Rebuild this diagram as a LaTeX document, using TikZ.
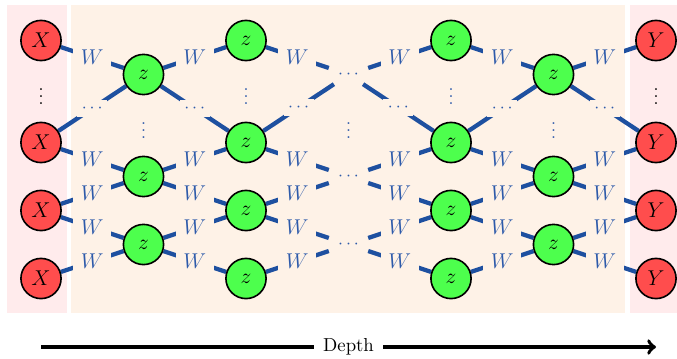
\documentclass[tikz,border=0pt]{standalone}
\usepackage{tikz}
\definecolor{edgeblue}{RGB}{30,80,160}
\definecolor{labblue}{RGB}{45,90,170}
\definecolor{pinkbg}{RGB}{255,235,236}
\definecolor{beigebg}{RGB}{254,242,231}
\definecolor{nodered}{RGB}{255,77,77}
\definecolor{nodegreen}{RGB}{77,255,77}
\pgfdeclarelayer{back}
\pgfdeclarelayer{mid}
\pgfsetlayers{back,mid,main}
\begin{document}
\begin{tikzpicture}[x=0.56pt,y=-0.56pt,
  neuron/.style={circle,draw=black,line width=0.9pt,minimum size=22.5pt,inner sep=0pt,font=\fontsize{11.5}{13}\selectfont},
  xnode/.style={neuron,fill=nodered},
  znode/.style={neuron,fill=nodegreen},
  midnode/.style={inner xsep=5pt,inner ysep=3pt,text=labblue},
  edge/.style={draw=edgeblue,line width=2.4pt},
  wlab/.style={fill=beigebg,text=labblue,inner xsep=4.2pt,inner ysep=3.5pt,font=\fontsize{11.5}{13}\selectfont},
  clab/.style={fill=beigebg,text=labblue,inner sep=2.5pt},
  bdots/.style={text=black,inner sep=0pt},
  zdots/.style={text=labblue,inner sep=0pt},
  depth/.style={draw=black,line width=2pt,->},
]
\useasboundingbox (0,0) rectangle (677,358);
% backgrounds
\begin{pgfonlayer}{back}
  \fill[pinkbg] (7,5) rectangle (67,313);
  \fill[beigebg] (71,5) rectangle (625,313);
  \fill[pinkbg] (630,5) rectangle (690,313);
\end{pgfonlayer}
% nodes
\foreach \k in {0,3,5,7} {
  \node[xnode] (n0-\k) at (41,40.5+34*\k) {$X$};
  \node[znode] (n2-\k) at (246,40.5+34*\k) {$z$};
  \node[znode] (n4-\k) at (451,40.5+34*\k) {$z$};
  \node[xnode] (n6-\k) at (656,40.5+34*\k) {$Y$};
}
\foreach \k in {1,4,6} {
  \node[znode] (n1-\k) at (143.5,40.5+34*\k) {$z$};
  \node[midnode] (n3-\k) at (348.5,40.5+34*\k) {$\cdots$};
  \node[znode] (n5-\k) at (553.5,40.5+34*\k) {$z$};
}
% vertical dots
\node[bdots] (v0) at (41,91.5) {$\vdots$};
\node[zdots] (v2) at (246,91.5) {$\vdots$};
\node[zdots] (v4) at (451,91.5) {$\vdots$};
\node[bdots] (v6) at (656,91.5) {$\vdots$};
\node[zdots] (v1) at (143.5,125.5) {$\vdots$};
\node[zdots] (v3) at (348.5,125.5) {$\vdots$};
\node[zdots] (v5) at (553.5,125.5) {$\vdots$};
% edges
\begin{pgfonlayer}{mid}
\foreach \c/\d in {0/1,2/3,4/5} {
  \foreach \a/\b in {0/1,3/4,5/4,5/6,7/6}
    \draw[edge] (n\c-\a) -- node[wlab] {$W$} (n\d-\b);
  \draw[edge] (n\c-3) -- node[clab] {$\cdots$} (n\d-1);
}
\foreach \c/\d in {1/2,3/4,5/6} {
  \foreach \a/\b in {1/0,4/3,4/5,6/5,6/7}
    \draw[edge] (n\c-\a) -- node[wlab] {$W$} (n\d-\b);
  \draw[edge] (n\c-1) -- node[clab] {$\cdots$} (n\d-3);
}
\end{pgfonlayer}
% depth arrow
\coordinate (dL) at (41,347);
\coordinate (dR) at (656,347);
\draw[depth] (dL) -- node[fill=white,text=black,inner xsep=5pt,font=\fontsize{10.5}{12}\selectfont] {Depth} (dR);
\end{tikzpicture}
\end{document}
